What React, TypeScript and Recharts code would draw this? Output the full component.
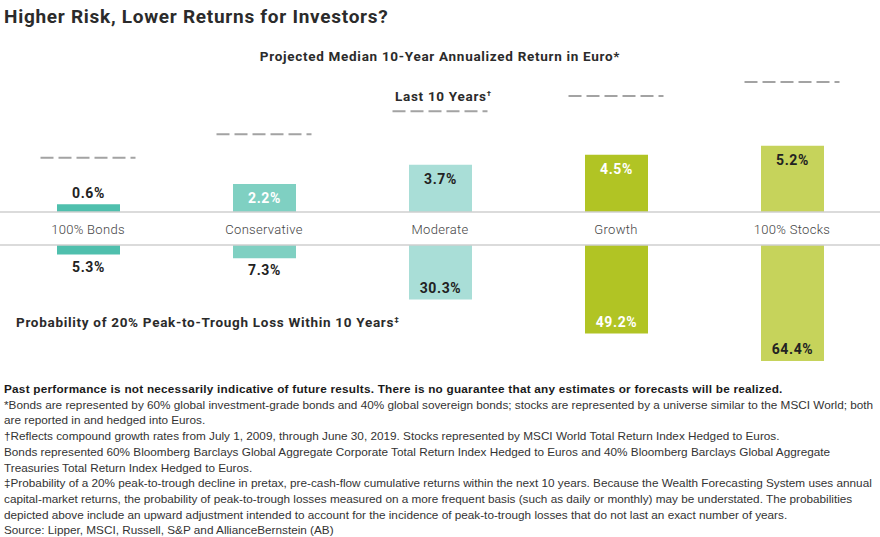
import React from "react";
import {
  ComposedChart,
  Bar,
  Scatter,
  XAxis,
  YAxis,
  Cell,
  LabelList,
  ReferenceLine,
} from "recharts";

// data
const portfolios = ["100% Bonds", "Conservative", "Moderate", "Growth", "100% Stocks"];
const projectedReturn = [0.6, 2.2, 3.7, 4.5, 5.2];
const last10Years = [4.25, 6.1, 7.9, 9.1, 10.2];
const lossProbability = [5.3, 7.3, 30.3, 49.2, 64.4];

const footnotes = [
  "*Bonds are represented by 60% global investment-grade bonds and 40% global sovereign bonds; stocks are represented by a universe similar to the MSCI World; both",
  "are reported in and hedged into Euros.",
  "\u2020Reflects compound growth rates from July 1, 2009, through June 30, 2019. Stocks represented by MSCI World Total Return Index Hedged to Euros.",
  "Bonds represented 60% Bloomberg Barclays Global Aggregate Corporate Total Return Index Hedged to Euros and 40% Bloomberg Barclays Global Aggregate",
  "Treasuries Total Return Index Hedged to Euros.",
  "\u2021Probability of a 20% peak-to-trough decline in pretax, pre-cash-flow cumulative returns within the next 10 years. Because the Wealth Forecasting System uses annual",
  "capital-market returns, the probability of peak-to-trough losses measured on a more frequent basis (such as daily or monthly) may be understated. The probabilities",
  "depicted above include an upward adjustment intended to account for the incidence of peak-to-trough losses that do not last an exact number of years.",
  "Source: Lipper, MSCI, Russell, S&P and AllianceBernstein (AB)",
];

// styles
const barColors = ["#4fbfad", "#7fd0c2", "#a9ded7", "#b1c424", "#c6d35b"];
const labelColors = ["#222", "#fff", "#222", "#fff", "#222"];
const HEAD_FONT = "Roboto, 'DejaVu Sans', sans-serif";
const NOTE_FONT = "'Liberation Sans', Arial, sans-serif";

const chartData = portfolios.map((name, i) => ({
  name,
  ret: projectedReturn[i],
  last10: last10Years[i],
  loss: lossProbability[i],
}));

const valueText = (x: number, y: number, fill: string, value: number) => (
  <text
    x={x}
    y={y}
    textAnchor="middle"
    dominantBaseline="central"
    fill={fill}
    fontFamily={HEAD_FONT}
    fontWeight={700}
    fontSize={14}
    letterSpacing={0.6}
  >
    {value.toFixed(1)}%
  </text>
);

const TopLabel = (props: any) => {
  const { x, y, width, height, value, index } = props;
  const top = Math.min(y, y + height);
  const outside = Math.abs(height) < 20;
  return valueText(
    x + width / 2,
    outside ? top - 11 : top + 14,
    outside ? "#222" : labelColors[index],
    value
  );
};

const BottomLabel = (props: any) => {
  const { x, y, width, height, value, index } = props;
  const bottom = Math.max(y, y + height);
  const outside = Math.abs(height) < 25;
  return valueText(
    x + width / 2,
    outside ? bottom + 12 : bottom - 12,
    outside ? "#222" : labelColors[index],
    value
  );
};

const DashMark = (props: any) => {
  const { cx, cy } = props;
  if (cx == null || cy == null) return null;
  return (
    <line
      x1={cx - 47.5}
      x2={cx + 47.5}
      y1={cy}
      y2={cy}
      stroke="#a3a3a3"
      strokeWidth={2}
      strokeDasharray="13 5"
    />
  );
};

const CategoryTick = (props: any) => {
  const { x, y, payload } = props;
  return (
    <text
      x={x}
      y={y + 17.5}
      textAnchor="middle"
      dominantBaseline="central"
      fill="#444"
      fontFamily={HEAD_FONT}
      fontWeight={300}
      fontSize={13}
      letterSpacing={0.3}
    >
      {payload.value}
    </text>
  );
};

const heading: React.CSSProperties = {
  position: "absolute",
  fontFamily: HEAD_FONT,
  fontWeight: 700,
  fontSize: 13.5,
  letterSpacing: 0.7,
  color: "#2b2b2b",
  whiteSpace: "nowrap",
};

export default function App() {
  return (
    <div
      style={{
        position: "absolute",
        left: 0,
        top: 0,
        width: 880,
        height: 537,
        background: "#fff",
        overflow: "hidden",
      }}
    >
      <div
        style={{
          ...heading,
          left: 4,
          top: 5,
          fontSize: 19,
          letterSpacing: 0.72,
        }}
      >
        Higher Risk, Lower Returns for Investors?
      </div>
      <div style={{ ...heading, left: 0, width: 880, top: 48, textAlign: "center" }}>
        Projected Median 10-Year Annualized Return in Euro*
      </div>
      <div style={{ ...heading, left: 395, top: 88 }}>
        Last 10 Years<sup style={{ fontSize: 8 }}>{"\u2020"}</sup>
      </div>

      {/* returns, growing up */}
      <div style={{ position: "absolute", left: 0, top: 58.5 }}>
        <ComposedChart
          width={880}
          height={187}
          data={chartData}
          margin={{ top: 0, right: 0, bottom: 0, left: 0 }}
          barCategoryGap={0}
        >
          <XAxis
            dataKey="name"
            height={34}
            tickLine={false}
            tickSize={0}
            tickMargin={0}
            axisLine={{ stroke: "#cfcfcf", strokeWidth: 1.5 }}
            tick={<CategoryTick />}
            interval={0}
          />
          <YAxis hide domain={[0, 12]} />
          <Bar dataKey="ret" barSize={63} isAnimationActive={false}>
            {chartData.map((d, i) => (
              <Cell key={d.name} fill={barColors[i]} />
            ))}
            <LabelList dataKey="ret" content={<TopLabel />} />
          </Bar>
          <Scatter dataKey="last10" shape={<DashMark />} isAnimationActive={false} />
        </ComposedChart>
      </div>

      {/* probability of loss, growing down */}
      <div style={{ position: "absolute", left: 0, top: 244 }}>
        <ComposedChart
          width={880}
          height={130}
          data={chartData}
          margin={{ top: 1, right: 0, bottom: 3, left: 0 }}
        >
          <XAxis dataKey="name" hide />
          <YAxis hide reversed domain={[0, 70]} />
          <ReferenceLine y={0} stroke="#cfcfcf" strokeWidth={1.5} />
          <Bar dataKey="loss" barSize={63} isAnimationActive={false}>
            {chartData.map((d, i) => (
              <Cell key={d.name} fill={barColors[i]} />
            ))}
            <LabelList dataKey="loss" content={<BottomLabel />} />
          </Bar>
        </ComposedChart>
      </div>

      <div style={{ ...heading, left: 16, top: 314 }}>
        Probability of 20% Peak-to-Trough Loss Within 10 Years
        <sup style={{ fontSize: 8 }}>{"\u2021"}</sup>
      </div>

      <div
        style={{
          position: "absolute",
          left: 4,
          top: 381,
          fontFamily: NOTE_FONT,
          fontSize: 11.75,
          lineHeight: "15.7px",
          color: "#333",
          whiteSpace: "nowrap",
        }}
      >
        <div style={{ fontWeight: 700, color: "#1a1a1a", letterSpacing: 0.24 }}>
          Past performance is not necessarily indicative of future results. There is no guarantee that any estimates or forecasts will be realized.
        </div>
        {footnotes.map((line) => (
          <div key={line}>{line}</div>
        ))}
      </div>
    </div>
  );
}
